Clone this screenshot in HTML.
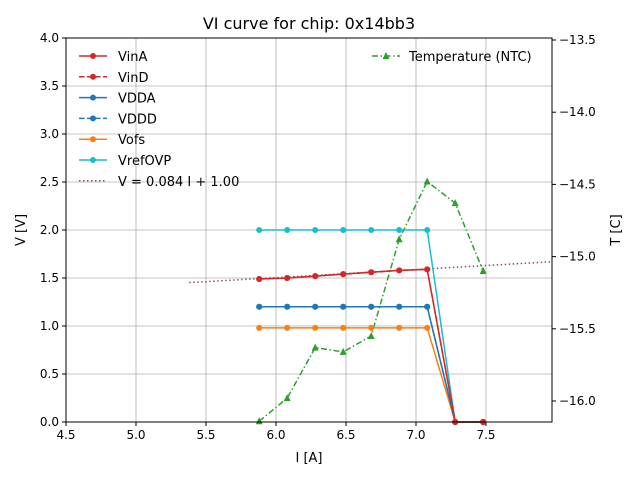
<!DOCTYPE html>
<html><head><meta charset="utf-8"><style>
body{margin:0;background:#fff;font-family:"Liberation Sans","DejaVu Sans",sans-serif}
svg text{font-family:"DejaVu Sans","Liberation Sans",sans-serif}
</style></head><body>
<svg id="c" width="640" height="480" xmlns="http://www.w3.org/2000/svg"></svg>
<script>
const currents=[5.88,6.08,6.28,6.48,6.68,6.88,7.08,7.28,7.48];
const vinA=[1.49,1.50,1.52,1.54,1.56,1.58,1.59,0,0];
const vinD=[1.49,1.50,1.52,1.54,1.56,1.58,1.59,0,0];
const vdda=[1.20,1.20,1.20,1.20,1.20,1.20,1.20,0,0];
const vddd=[1.20,1.20,1.20,1.20,1.20,1.20,1.20,0,0];
const vofs=[0.98,0.98,0.98,0.98,0.98,0.98,0.98,0,0];
const vrefovp=[2.00,2.00,2.00,2.00,2.00,2.00,2.00,0,0];
const temperature=[-16.14,-15.98,-15.63,-15.66,-15.55,-14.88,-14.48,-14.63,-15.10];
const fitSlope=0.084, fitIntercept=1.00, fitRange=[5.38,7.97];
const xTicks=[4.5,5.0,5.5,6.0,6.5,7.0,7.5];
const yTicks=[0,0.5,1.0,1.5,2.0,2.5,3.0,3.5,4.0];
const tTicks=[-16.0,-15.5,-15.0,-14.5,-14.0,-13.5];

const L=66,R=552,T=38,B=422;
const X=v=>L+(v-4.5)*140;
const Y=v=>B-v*96;
const TY=v=>401-(v+16.0)*144.4;
const svg=document.getElementById('c');
const NS='http://www.w3.org/2000/svg';
function el(tag,attrs,parent){const e=document.createElementNS(NS,tag);for(const k in attrs)e.setAttribute(k,attrs[k]);(parent||svg).appendChild(e);return e;}
function txt(s,attrs){const e=el('text',attrs);e.textContent=s;return e;}

// grid
xTicks.forEach(v=>{const g=el('line',{x1:X(v),x2:X(v),y1:T,y2:B,stroke:'#b0b0b0','stroke-width':0.8});


const t=txt(v.toFixed(1),{x:X(v),y:B+17,'text-anchor':'middle','font-size':12});


el('line',{x1:X(v),x2:X(v),y1:B,y2:B+4,stroke:'#000'});});
yTicks.forEach(v=>{const g=el('line',{x1:L,x2:R,y1:Y(v),y2:Y(v),stroke:'#b0b0b0','stroke-width':0.8});


const t=txt(v.toFixed(1),{x:L-7,y:Y(v)+4,'text-anchor':'end','font-size':12});


el('line',{x1:L-4,x2:L,y1:Y(v),y2:Y(v),stroke:'#000'});});
tTicks.forEach(v=>{const t=txt(v.toFixed(1).replace('-','\u2212'),{x:R+7,y:TY(v)+4,'font-size':12});


el('line',{x1:R,x2:R+4,y1:TY(v),y2:TY(v),stroke:'#000'});});

function series(vals,color,dash,name,yf,marker){
  const pts=vals.map((v,i)=>X(currents[i])+','+yf(v)).join(' ');
  const p=el('polyline',{points:pts,fill:'none',stroke:color,'stroke-width':1.5,'stroke-dasharray':dash||'none'});
  
  
  vals.forEach((v,i)=>{let m;
    if(marker==='tri'){const x=X(currents[i]),y=yf(v);m=el('polygon',{points:`${x},${y-4} ${x-3.5},${y+3} ${x+3.5},${y+3}`,fill:color});}
    else m=el('circle',{cx:X(currents[i]),cy:yf(v),r:3,fill:color});
    
    });
}
// fit line
const f=el('line',{x1:X(fitRange[0]),y1:Y(fitSlope*fitRange[0]+fitIntercept),x2:X(fitRange[1]),y2:Y(fitSlope*fitRange[1]+fitIntercept),stroke:'#8c564b','stroke-width':1.5,'stroke-dasharray':'1.5,2.5'});


series(temperature,'#2ca02c','6,2.5,1.5,2.5','temperature',TY,'tri');
series(vrefovp,'#17becf','','vrefovp',Y);
series(vofs,'#ff7f0e','','vofs',Y);
series(vdda,'#1f77b4','','vdda',Y);
series(vddd,'#1f77b4','5.5,2.5','vddd',Y);
series(vinA,'#d62728','','vina',Y);
series(vinD,'#d62728','5.5,2.5','vind',Y);

const fr=el('rect',{x:L,y:T,width:R-L,height:B-T,fill:'none',stroke:'#000','stroke-width':1});



// legend
const leg=[['VinA','#d62728',''],['VinD','#d62728','5.5,2.5'],['VDDA','#1f77b4',''],['VDDD','#1f77b4','5.5,2.5'],['Vofs','#ff7f0e',''],['VrefOVP','#17becf',''],['V = 0.084 I + 1.00','#8c564b','1.5,2.5']];
leg.forEach((d,i)=>{const y=56+i*20.8;
  const l=el('line',{x1:79,x2:107,y1:y,y2:y,stroke:d[1],'stroke-width':1.5,'stroke-dasharray':d[2]||'none'});
  
  
  if(i<6)el('circle',{cx:93,cy:y,r:3,fill:d[1]});
  txt(d[0],{x:118,y:y+5,'font-size':13});});
const tl=el('line',{x1:372,x2:400,y1:56,y2:56,stroke:'#2ca02c','stroke-width':1.5,'stroke-dasharray':'6,2.5,1.5,2.5'});


el('polygon',{points:'386,52 382.5,59 389.5,59',fill:'#2ca02c'});
txt('Temperature (NTC)',{x:409,y:61,'font-size':13});

const tt=txt('VI curve for chip: 0x14bb3',{x:309,y:29,'text-anchor':'middle','font-size':16});


const xl=txt('I [A]',{x:309,y:462,'text-anchor':'middle','font-size':13});


const yl=txt('V [V]',{x:0,y:0,'text-anchor':'middle','font-size':13,transform:'translate(25,230) rotate(-90)'});


const rl=txt('T [C]',{x:0,y:0,'text-anchor':'middle','font-size':13,transform:'translate(620,230) rotate(-90)'});


</script>
</body></html>
